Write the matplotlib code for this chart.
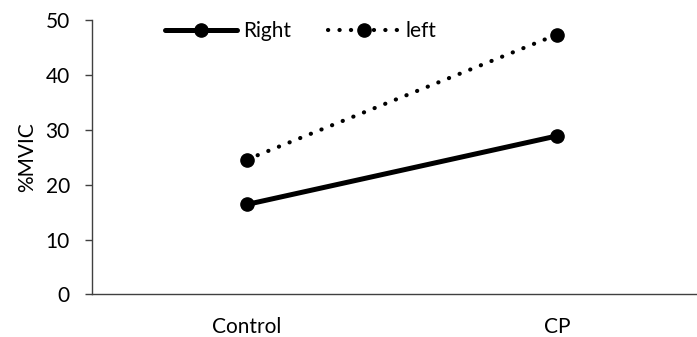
import matplotlib.pyplot as plt

categories = ["Control", "CP"]
right = [16.4, 28.9]
left = [24.6, 47.4]
yticks = [0, 10, 20, 30, 40, 50]

plt.rcParams['font.family'] = ['Lato', 'DejaVu Sans']
fs = 15

fig = plt.figure(figsize=(6.97, 3.37), dpi=100)
ax = fig.add_axes([0.132, 0.1267, 0.8895, 0.813])

x = list(range(len(categories)))
ax.plot(x, right, color='black', linewidth=3.6, marker='o', markersize=9.5,
        solid_capstyle='round', label='Right')
ax.plot(x, left, color='black', linewidth=3.0, marker='o', markersize=9.5,
        linestyle=(0, (0.05, 2.7)), dash_capstyle='round', label='left')

ax.set_xlim(-0.5, 1.5)
ax.set_ylim(0, 50)
ax.set_yticks(yticks)
ax.set_xticks(x)
ax.set_xticklabels(categories)
ax.set_ylabel('%MVIC', fontsize=fs, labelpad=6)

for s in ['top', 'right']:
    ax.spines[s].set_visible(False)
for s in ['left', 'bottom']:
    ax.spines[s].set_color('#404040')
    ax.spines[s].set_linewidth(1.0)

ax.tick_params(axis='y', length=5, width=1.0, color='#404040', pad=11, labelsize=fs)
ax.tick_params(axis='x', length=0, pad=16, labelsize=fs)

ax.legend(loc='center left', bbox_to_anchor=(0.118, 0.961), ncol=2, frameon=False,
          fontsize=fs, handlelength=3.45, handletextpad=0.3, columnspacing=1.75,
          borderpad=0, borderaxespad=0)

fig.savefig('out.png', dpi=100)
